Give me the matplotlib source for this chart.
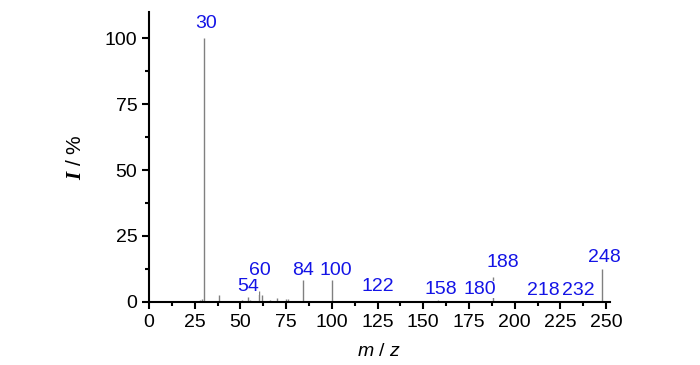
import matplotlib
matplotlib.use('Agg')
import matplotlib.pyplot as plt
from matplotlib.ticker import MultipleLocator

plt.rcParams['font.family'] = ['Liberation Sans', 'DejaVu Sans']
plt.rcParams['mathtext.fontset'] = 'custom'
plt.rcParams['mathtext.it'] = 'Liberation Sans:italic'
plt.rcParams['mathtext.rm'] = 'Liberation Serif:italic:bold'

# Peak list (m/z, relative intensity %)
mz = [28, 29, 30, 38, 43, 51, 54, 55, 60, 62, 66, 70, 75, 76, 84, 100, 101,
      122, 158, 160, 180, 188, 189, 218, 232, 248]
intensity = [0.6, 1.0, 100, 2.5, 0.5, 0.8, 2.0, 0.8, 4.0, 2.5, 0.6, 1.5, 1.2, 1.2,
             8.3, 8.3, 0.4, 0.5, 0.8, 0.4, 0.3, 9.5, 0.5, 0.2, 0.2, 12.5]

# Labelled peaks and where their labels sit
label_mz = [30, 54, 60, 84, 100, 122, 158, 180, 188, 218, 232, 248]
label_x = [31, 54, 60.5, 84.5, 102, 125, 159.5, 181, 193.5, 215.5, 235, 249]
label_y = [105.5, 5.8, 12, 12, 12, 5.8, 4.6, 4.6, 14.8, 4.4, 4.4, 17]

fig = plt.figure(figsize=(7, 3.65), dpi=100)
ax = fig.add_axes([0.213, 0.173, 0.658, 0.794])

ax.vlines(mz, 0, intensity, color='#808080', linewidth=1)

for m, x, y in zip(label_mz, label_x, label_y):
    ax.text(x, y, str(m), color='#1414e6', fontsize=14, ha='center', va='center',
            bbox=dict(facecolor='white', edgecolor='none', pad=0.2))

ax.set_xlim(0, 252)
ax.set_ylim(0, 110)
ax.xaxis.set_major_locator(MultipleLocator(25))
ax.xaxis.set_minor_locator(MultipleLocator(12.5))
ax.yaxis.set_major_locator(MultipleLocator(25))
ax.yaxis.set_minor_locator(MultipleLocator(12.5))
ax.set_xticks(range(0, 251, 25))

for side in ['top', 'right']:
    ax.spines[side].set_visible(False)
for side in ['left', 'bottom']:
    ax.spines[side].set_linewidth(1.5)

ax.tick_params(which='major', direction='out', length=5, width=1.5, labelsize=14)
ax.tick_params(which='minor', direction='out', length=3, width=1.5)

ax.set_xlabel(r'$m$ / $z$', fontsize=14, labelpad=9)
ax.set_ylabel(r'$\mathrm{I}$ / %', fontsize=15, labelpad=14)

plt.savefig('out.png', dpi=100)
